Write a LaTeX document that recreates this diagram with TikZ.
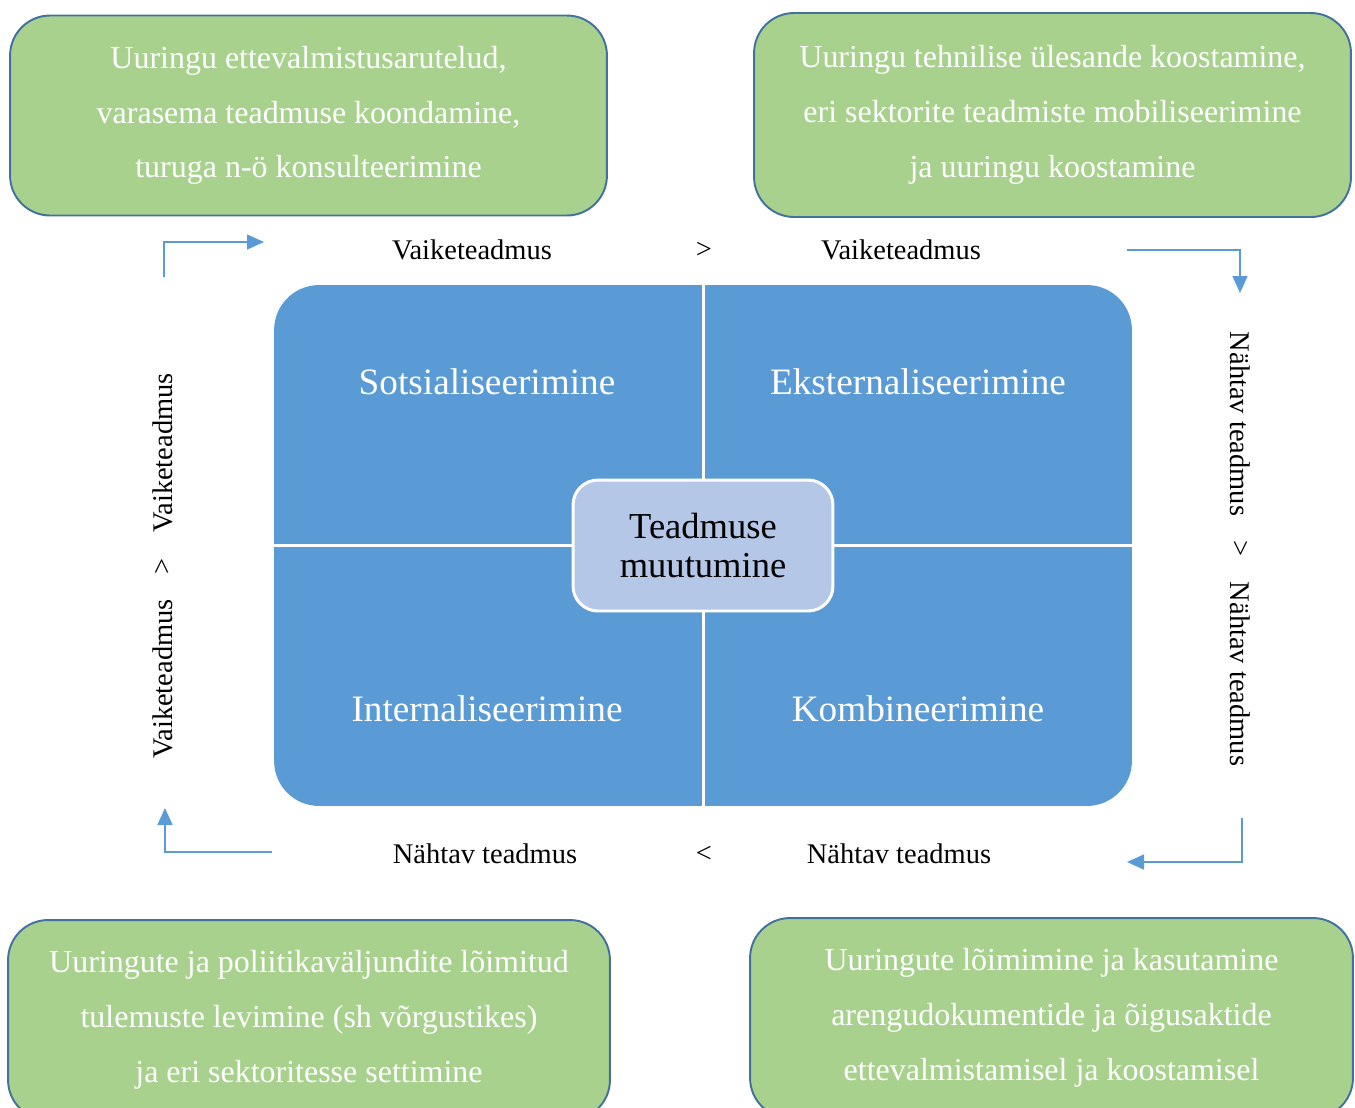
\documentclass[tikz,border=0pt]{standalone}
\usepackage{fontspec}
\setmainfont{Liberation Serif}
\usetikzlibrary{arrows.meta}
\definecolor{leafgreen}{HTML}{A9D18E}
\definecolor{edgeblue}{HTML}{41719C}
\definecolor{quadblue}{HTML}{5B9BD5}
\definecolor{coreblue}{HTML}{B4C7E7}
\begin{document}
\begin{tikzpicture}[x=0.02cm,y=-0.02cm,
    task/.style={draw=edgeblue, line width=1.1pt, fill=leafgreen, rounded corners=0.8cm,
      minimum width=11.94cm, minimum height=4cm, text=white, align=center,
      font=\fontsize{18.2}{31.2}\selectfont},
    quad/.style={text=white, font=\fontsize{21.2}{24}\selectfont},
    kind/.style={font=\fontsize{16.2}{19}\selectfont},
    flow/.style={draw=quadblue, line width=0.9pt, -{Triangle[length=0.34cm,width=0.3cm]}}]
    \useasboundingbox (0,0) rectangle (1355,1107);
    \clip (0,0) rectangle (1355,1107);

    % four steps
    \node[task] (prep) at (308.5,115.5) {Uuringu ettevalmistusarutelud,\\varasema teadmuse koondamine,\\turuga n-ö konsulteerimine};
    \node[task, minimum height=4.08cm] (make) at (1052.5,115) {Uuringu tehnilise ülesande koostamine,\\eri sektorite teadmiste mobiliseerimine\\ja uuringu koostamine};
    \node[task, minimum width=12.04cm] (share) at (309,1020) {Uuringute ja poliitikaväljundite lõimitud\\tulemuste levimine (sh võrgustikes)\\ja eri sektoritesse settimine};
    \node[task, minimum width=12.06cm] (use) at (1051.5,1018) {Uuringute lõimimine ja kasutamine\\arengudokumentide ja õigusaktide\\ettevalmistamisel ja koostamisel};

    % the grid
    \node[fill=quadblue, rounded corners=0.9cm, minimum width=17.16cm, minimum height=10.42cm] (grid) at (703,545.5) {};
    \draw[white, line width=1.7pt] (grid.north) -- (grid.south);
    \draw[white, line width=1.7pt] (grid.west) -- (grid.east);
    \node[quad] (soc) at (487,382) {Sotsialiseerimine};
    \node[quad] (ext) at (918,382) {Eksternaliseerimine};
    \node[quad] (int) at (487,709) {Internaliseerimine};
    \node[quad] (comb) at (918,709) {Kombineerimine};
    \node[draw=white, line width=1.7pt, fill=coreblue, rounded corners=0.5cm, minimum width=5.2cm,
      minimum height=2.62cm, align=center, font=\fontsize{20.8}{22.2}\selectfont] (core) at (703,545.5) {Teadmuse\\muutumine};

    % kinds of knowledge
    \node[kind] (t1) at (472,250) {Vaiketeadmus};
    \node[kind] (t2) at (704,250) {>};
    \node[kind] (t3) at (901,250) {Vaiketeadmus};
    \node[kind] (b1) at (485,854) {Nähtav teadmus};
    \node[kind] (b2) at (704,854) {<};
    \node[kind] (b3) at (899,854) {Nähtav teadmus};
    \node[kind, rotate=90] (l1) at (163,679) {Vaiketeadmus};
    \node[kind, rotate=90] (l2) at (163,566) {>};
    \node[kind, rotate=90] (l3) at (163,453) {Vaiketeadmus};
    \node[kind, rotate=-90] (r1) at (1240,424) {Nähtav teadmus};
    \node[kind, rotate=-90] (r2) at (1240,549) {>};
    \node[kind, rotate=-90] (r3) at (1240,674) {Nähtav teadmus};

    % arrows
    \coordinate (a1) at (164,277);
    \coordinate (a2) at (264,242);
    \coordinate (a3) at (1127,250);
    \coordinate (a4) at (1240,293);
    \coordinate (a5) at (1242,818);
    \coordinate (a6) at (1127,862);
    \coordinate (a7) at (272,852);
    \coordinate (a8) at (165,808);
    \draw[flow] (a1) |- (a2);
    \draw[flow] (a3) -| (a4);
    \draw[flow] (a5) |- (a6);
    \draw[flow] (a7) -| (a8);
\end{tikzpicture}
\end{document}
